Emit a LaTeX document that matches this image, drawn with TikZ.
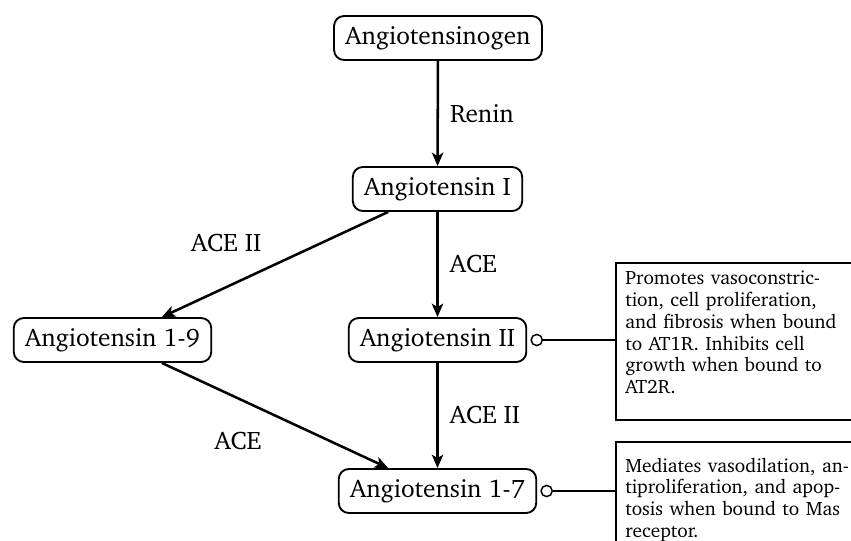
\documentclass[tikz,border=0pt]{standalone}
\usepackage[T1]{fontenc}
\renewcommand{\rmdefault}{bch}
\usetikzlibrary{arrows.meta,calc,positioning}

% one line of a box, spread to a given width
\newcommand{\fillline}[2]{\makebox[#1][s]{#2}}

\tikzset{
  stage/.style={draw, line width=1.4pt, rounded corners=7.5pt,
    minimum height=33pt, inner xsep=8.5pt, inner ysep=0pt,
    font=\fontsize{19}{23}\selectfont},
  conv/.style={line width=1.9pt, -{Stealth[length=10pt, width=8.5pt, inset=2.5pt]}},
  enzyme/.style={font=\fontsize{19}{23}\selectfont},
  infobox/.style={draw, line width=1.5pt, anchor=north west, align=left,
    text width=200pt, inner xsep=7pt,
    font=\fontsize{14.5}{16.3}\selectfont},
  binder/.style={circle, draw, fill=white, line width=1.1pt,
    minimum size=8.4pt, inner sep=0pt},
  tether/.style={line width=1.4pt}
}

\begin{document}
\begin{tikzpicture}[x=0.75pt, y=-0.75pt]
\useasboundingbox (0,0) rectangle (851,540);

% peptides of the cascade
\node[stage] (agn) at (438,38)  {Angiotensinogen};
\node[stage] (a1)  at (437.5,189) {Angiotensin I};
\node[stage] (a2)  at (437.5,340) {Angiotensin II};
\node[stage] (a19) at (112.5,340) {Angiotensin 1-9};
\node[stage] (a17) at (437.5,491) {Angiotensin 1-7};

% enzymatic conversions
\draw[conv] (agn) -- node[enzyme, right=5pt] {Renin} (a1);
\draw[conv] (a1)  -- node[enzyme, right=5pt] {ACE} (a2);
\draw[conv] (a2)  -- node[enzyme, right=5pt] {ACE II} (a17);
\draw[conv] (a1)  -- node[enzyme, above left=5.5pt and 6pt] {ACE II} (a19);
\draw[conv] (a19) -- node[enzyme, below left=8pt and 6pt] {ACE} (a17);

% receptor effects
\node[infobox, inner ysep=5pt] (fx2) at (615,262)
  {\fillline{156pt}{\strut Promotes vasoconstric-}\\
   \fillline{151.5pt}{tion, cell proliferation,}\\
   \fillline{158.2pt}{and fibrosis when bound}\\
   \fillline{138.7pt}{to AT1R. Inhibits cell}\\
   \fillline{156pt}{growth when bound to}\\
   AT2R.\rule[-14.5pt]{0pt}{1pt}};
\node[infobox, inner ysep=11.1pt] (fx17) at (615,441)
  {\fillline{164.5pt}{\strut Mediates vasodilation, an-}\\
   \fillline{164.5pt}{tiproliferation, and apop-}\\
   \fillline{164.5pt}{tosis when bound to Mas}\\
   receptor.\strut};

\node[binder] (b2)  at ($(a2.east)+(9.5,0)$)  {};
\node[binder] (b17) at ($(a17.east)+(9.5,0)$) {};
\draw[tether] (b2)  -- (b2 -| fx2.west);
\draw[tether] (b17) -- (b17 -| fx17.west);
\end{tikzpicture}
\end{document}
